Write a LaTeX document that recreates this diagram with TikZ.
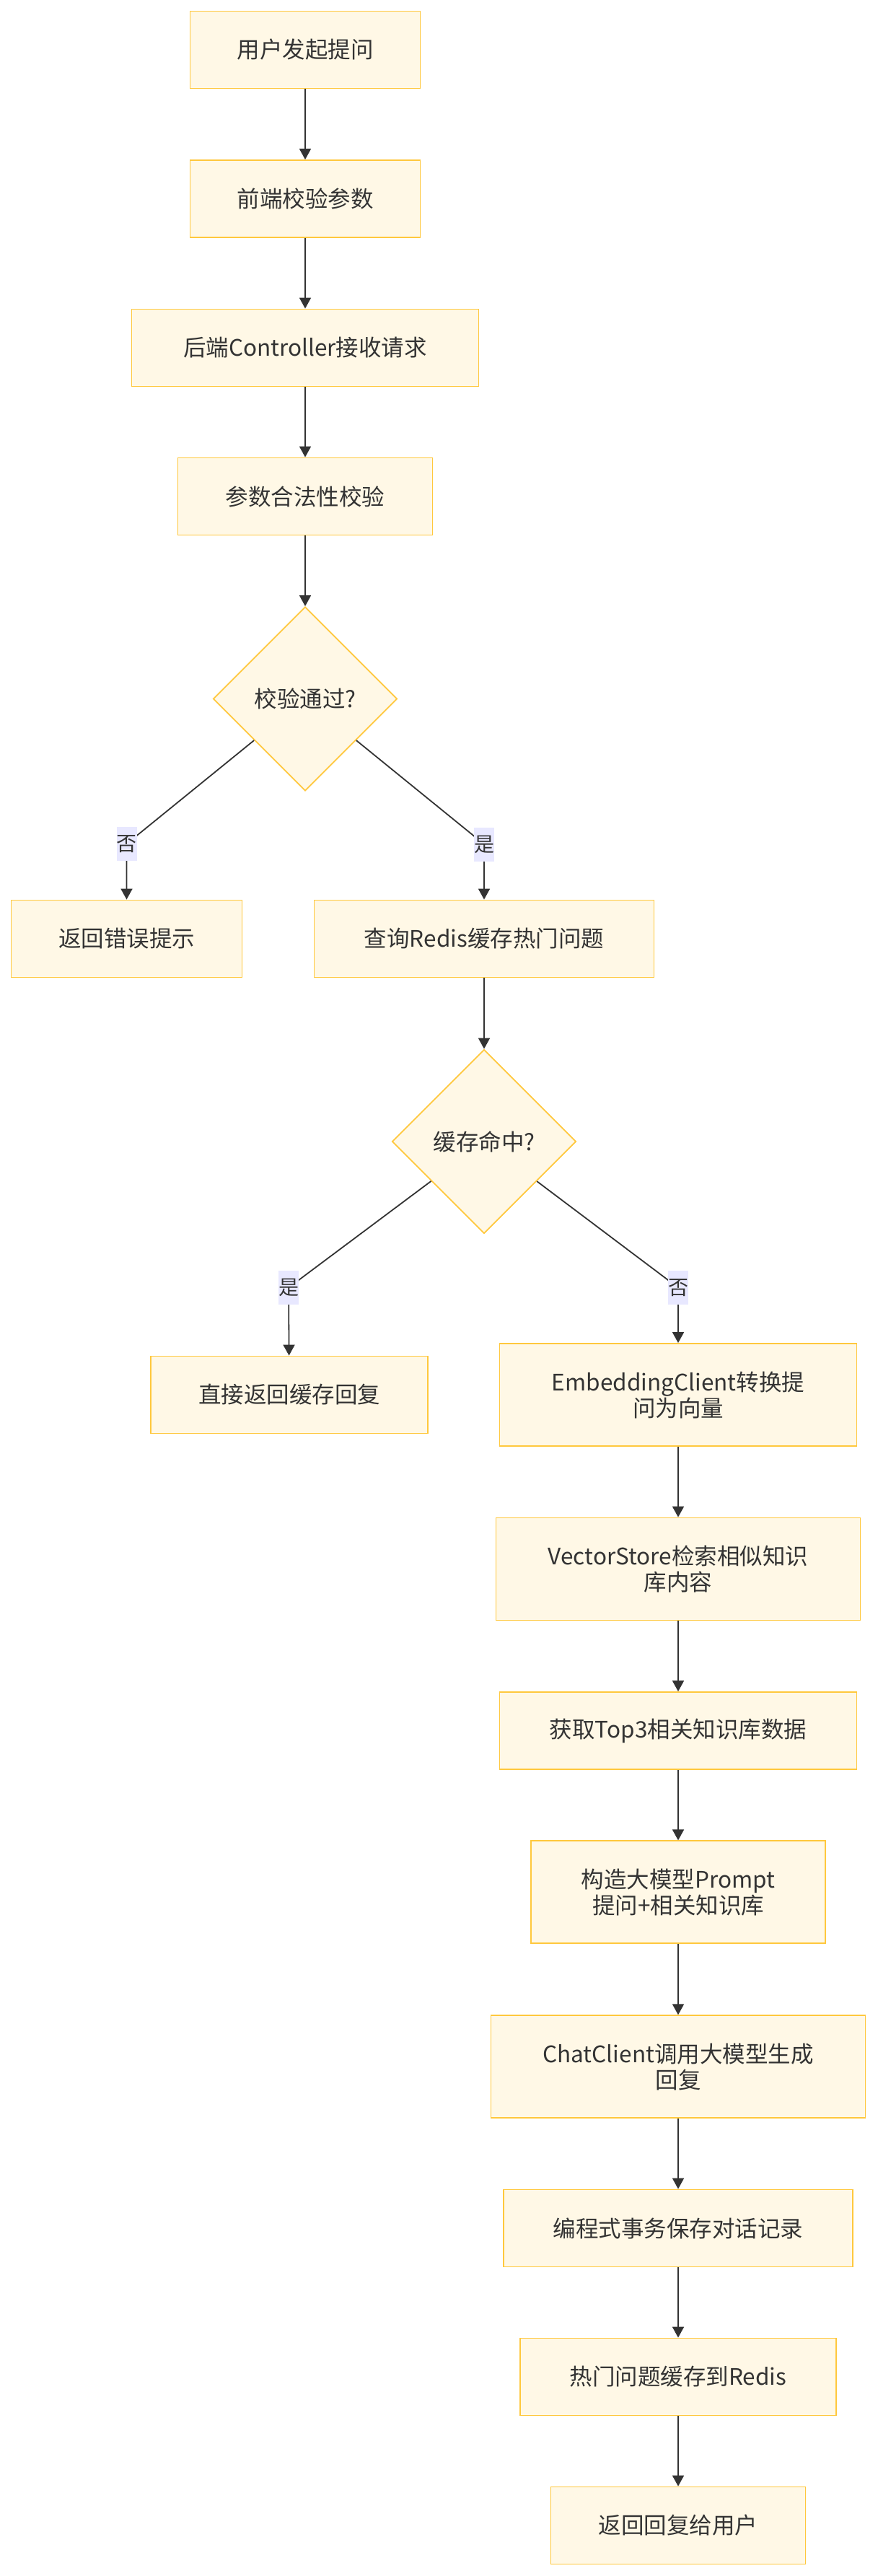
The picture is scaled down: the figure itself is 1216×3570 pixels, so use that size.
\documentclass[tikz,border=0pt]{standalone}
\usepackage{fontspec}
\setmainfont{Noto Sans CJK SC}
\usetikzlibrary{shapes.geometric,arrows.meta}
\definecolor{boxfill}{HTML}{FFF8E6}
\definecolor{boxline}{HTML}{FFC83D}
\definecolor{lblfill}{HTML}{E8E8FF}
\definecolor{ink}{HTML}{333333}
\begin{document}
\begin{tikzpicture}[x=1pt,y=-1pt,
  box/.style={draw=boxline,fill=boxfill,line width=1.8pt,inner sep=0pt,text=ink,font=\fontsize{31.5}{36}\selectfont,align=center},
  dec/.style={diamond,aspect=1,draw=boxline,fill=boxfill,line width=1.8pt,inner sep=0pt,minimum width=255pt,minimum height=255pt,text=ink,font=\fontsize{31.5}{36}\selectfont},
  lbl/.style={fill=lblfill,inner sep=0pt,minimum width=28pt,minimum height=47pt,text=ink,font=\fontsize{28}{34}\selectfont},
  link/.style={draw=ink,line width=1.8pt},
  arr/.style={link,-{Triangle[length=15pt,width=16pt]}}]
\useasboundingbox (0,0) rectangle (1216,3570);
\fill[white] (0,0) rectangle (1216,3570);

\node[box,minimum width=319pt,minimum height=107pt] (n1) at (423,69) {用户发起提问};
\node[box,minimum width=319pt,minimum height=107pt] (n2) at (423,275.5) {前端校验参数};
\node[box,minimum width=481pt,minimum height=107pt] (n3) at (423,482) {后端Controller接收请求};
\node[box,minimum width=353pt,minimum height=107pt] (n4) at (423,688) {参数合法性校验};
\node[dec] (d1) at (423,968.5) {校验通过?};
\node[box,minimum width=320pt,minimum height=107pt] (n5) at (175.5,1301) {返回错误提示};
\node[box,minimum width=471pt,minimum height=107pt] (n6) at (671,1301) {查询Redis缓存热门问题};
\node[dec] (d2) at (671,1582) {缓存命中?};
\node[box,minimum width=384pt,minimum height=107pt] (n7) at (401,1933) {直接返回缓存回复};
\node[box,minimum width=495pt,minimum height=142pt] (n8) at (940,1933) {EmbeddingClient转换提\\问为向量};
\node[box,minimum width=505pt,minimum height=142pt] (n9) at (940,2174.5) {VectorStore检索相似知识\\库内容};
\node[box,minimum width=495pt,minimum height=107pt] (n10) at (940,2398.5) {获取Top3相关知识库数据};
\node[box,minimum width=407.5pt,minimum height=142pt] (n11) at (940,2622.3) {构造大模型Prompt\\提问+相关知识库};
\node[box,minimum width=519pt,minimum height=142pt] (n12) at (940,2864.2) {ChatClient调用大模型生成\\回复};
\node[box,minimum width=484pt,minimum height=107pt] (n13) at (940,3088) {编程式事务保存对话记录};
\node[box,minimum width=438.5pt,minimum height=107pt] (n14) at (940,3294) {热门问题缓存到Redis};
\node[box,minimum width=353pt,minimum height=107pt] (n15) at (940,3500) {返回回复给用户};

\coordinate (c1) at (175.5,1169.5);
\coordinate (c2) at (671,1170);
\coordinate (c3) at (400,1784.5);
\coordinate (c4) at (940,1784.5);

\draw[arr] (n1) -- (n2);
\draw[arr] (n2) -- (n3);
\draw[arr] (n3) -- (n4);
\draw[arr] (n4) -- (d1);
\draw[arr] (d1) -- (c1) -- (n5);
\draw[arr] (d1) -- (c2) -- (n6);
\draw[arr] (n6) -- (d2);
\draw[arr] (d2) -- (c3) -- (n7);
\draw[arr] (d2) -- (c4) -- (n8);
\draw[arr] (n8) -- (n9);
\draw[arr] (n9) -- (n10);
\draw[arr] (n10) -- (n11);
\draw[arr] (n11) -- (n12);
\draw[arr] (n12) -- (n13);
\draw[arr] (n13) -- (n14);
\draw[arr] (n14) -- (n15);

\node[lbl] (l1) at (c1) {否};
\node[lbl] (l2) at (c2) {是};
\node[lbl] (l3) at (c3) {是};
\node[lbl] (l4) at (c4) {否};
\end{tikzpicture}
\end{document}
